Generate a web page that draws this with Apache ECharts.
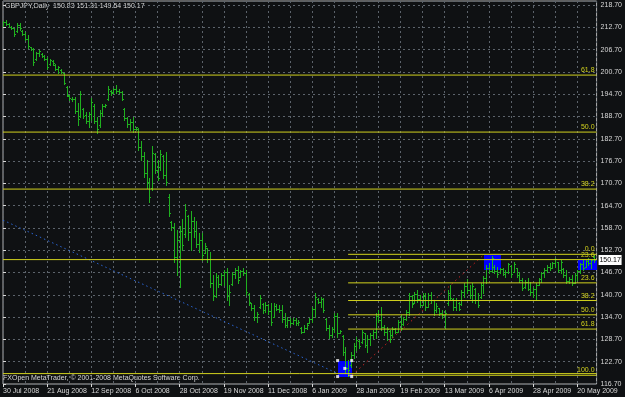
<!DOCTYPE html>
<html>
<head>
    <meta charset="UTF-8">
    <title>GBPJPY,Daily</title>
    <script type="text/javascript" src="https://cdn.jsdelivr.net/npm/echarts@6.0.0/dist/echarts.min.js"></script>
    <style>
        html, body { margin: 0; padding: 0; background: #0f1113; }
        #chart { width: 625px; height: 397px; }
    </style>
</head>
<body>
<div id="chart"></div>
<script type="text/javascript">
    // x-axis labels, one every 16 bars
    var tickLabels = ['30 Jul 2008', '21 Aug 2008', '12 Sep 2008', '6 Oct 2008', '28 Oct 2008', '19 Nov 2008', '11 Dec 2008',
        '6 Jan 2009', '28 Jan 2009', '19 Feb 2009', '13 Mar 2009', '6 Apr 2009', '28 Apr 2009', '20 May 2009'];

    // daily bars
    var opens = [
        213.5, 214.1, 213.6, 212.9, 212.4, 211.6, 213.4, 211.8, 210.9, 209.6,
        207.3, 206.9, 204.2, 205.8, 205.5, 205.0, 204.3, 202.8, 203.6, 202.6,
        201.6, 201.2, 200.4, 196.5, 194.2, 193.5, 193.4, 190.2, 188.9, 190.6,
        189.0, 187.5, 189.4, 191.6, 187.6, 186.3, 189.6, 191.5, 193.4, 195.5,
        195.3, 196.0, 195.5, 195.2, 190.6, 188.4, 186.7, 187.2, 185.4, 185.3,
        180.5, 178.0, 173.6, 171.0, 169.5, 178.6, 174.3, 175.0, 178.0, 172.9,
        167.0, 160.2, 158.9, 151.0, 155.5, 157.8, 157.0, 162.0, 157.5, 160.6,
        158.0, 154.5, 155.5, 152.0, 153.3, 150.3, 144.0, 140.5, 145.5, 143.5,
        146.0, 146.8, 140.3, 143.5, 146.2, 147.3, 145.6, 147.0, 146.5, 141.0,
        138.4, 137.2, 134.8, 137.4, 138.2, 136.5, 138.0, 136.3, 134.7, 137.8,
        137.0, 136.6, 134.2, 132.7, 133.9, 133.0, 133.8, 133.1, 131.8, 130.8,
        131.9, 133.2, 134.1, 136.9, 139.6, 138.9, 139.7, 134.2, 131.8, 130.0,
        131.4, 135.0, 130.5, 129.5, 125.3, 121.0, 121.8, 124.6, 126.9, 128.4,
        127.9, 130.4, 127.3, 128.9, 129.9, 130.8, 135.1, 134.0, 132.0, 130.6,
        131.0, 129.8, 131.6, 130.8, 133.4, 132.8, 134.2, 136.0, 140.4, 138.6,
        141.0, 139.6, 138.0, 140.5, 137.5, 140.6, 139.2, 136.5, 137.1, 135.8,
        135.2, 138.4, 141.3, 139.5, 137.3, 138.6, 138.2, 141.4, 143.2, 142.0,
        140.6, 142.3, 139.3, 140.0, 143.3, 145.2, 148.0, 147.2, 148.3, 147.0,
        146.8, 147.6, 146.4, 146.9, 148.5, 146.9, 147.8, 146.0, 144.6, 142.8,
        144.2, 142.3, 141.4, 142.4, 143.4, 144.9, 146.5, 147.5, 148.2, 147.9,
        149.2, 149.5, 147.4, 147.6, 146.1, 144.5, 145.0, 143.9, 146.0, 147.0,
        148.9, 148.3, 149.7, 149.2, 150.83
    ];
    var highs = [
        214.4, 214.7, 213.9, 213.0, 212.4, 213.8, 213.8, 212.0, 211.5, 210.6,
        207.5, 207.2, 206.1, 206.6, 205.8, 205.2, 204.8, 204.3, 203.9, 202.7,
        202.3, 201.4, 200.5, 196.9, 194.5, 193.9, 193.9, 192.2, 195.6, 190.9,
        190.0, 190.0, 193.6, 192.0, 188.6, 190.4, 192.0, 192.1, 196.9, 195.8,
        196.4, 197.2, 196.0, 195.6, 190.9, 188.6, 187.9, 188.6, 186.0, 185.5,
        182.1, 179.1, 177.0, 172.1, 180.7, 178.9, 177.0, 179.7, 178.3, 179.1,
        167.8, 160.6, 160.1, 158.2, 159.2, 161.1, 165.1, 162.2, 163.2, 161.6,
        160.6, 157.3, 157.3, 154.6, 153.3, 152.2, 146.0, 146.6, 146.0, 146.6,
        147.4, 147.9, 143.3, 146.9, 147.9, 148.5, 147.4, 147.9, 147.4, 141.2,
        138.5, 138.0, 136.1, 140.7, 138.4, 138.7, 138.3, 138.6, 138.4, 138.2,
        138.0, 138.0, 135.8, 134.7, 134.5, 134.5, 134.5, 133.9, 132.0, 132.6,
        133.1, 134.5, 137.4, 141.2, 139.8, 140.1, 139.8, 134.5, 132.6, 132.0,
        135.8, 135.8, 131.2, 129.9, 126.6, 123.2, 125.3, 127.7, 129.4, 128.6,
        131.2, 130.4, 129.9, 130.4, 131.2, 135.8, 136.6, 137.4, 132.6, 132.0,
        131.2, 132.0, 131.8, 133.9, 135.3, 134.7, 136.6, 141.2, 140.7, 141.5,
        142.0, 140.7, 141.2, 141.2, 141.2, 141.5, 139.3, 138.5, 137.2, 136.6,
        136.6, 142.0, 143.3, 139.8, 139.8, 138.8, 142.0, 143.9, 145.0, 143.3,
        143.9, 142.5, 141.2, 143.9, 145.8, 148.7, 149.3, 151.2, 148.7, 148.2,
        147.9, 147.9, 147.4, 149.3, 148.7, 149.6, 147.9, 146.9, 145.2, 144.7,
        145.2, 144.2, 142.8, 143.9, 145.2, 146.9, 147.9, 148.7, 149.3, 149.6,
        150.6, 149.6, 150.1, 147.9, 147.4, 145.5, 146.0, 146.6, 147.4, 149.3,
        150.1, 150.1, 150.6, 150.1, 151.31
    ];
    var lows = [
        213.1, 213.3, 212.7, 212.2, 210.4, 211.5, 212.1, 210.6, 209.3, 207.0,
        206.6, 202.6, 203.9, 205.1, 204.7, 203.9, 201.4, 202.6, 202.6, 201.2,
        200.5, 200.3, 197.4, 194.2, 193.1, 192.9, 189.6, 186.4, 188.5, 188.2,
        186.9, 186.0, 187.8, 186.9, 184.3, 186.0, 188.8, 191.2, 193.1, 194.5,
        195.1, 195.1, 194.9, 193.1, 187.8, 186.0, 185.1, 184.6, 185.1, 179.7,
        177.0, 172.4, 169.4, 165.7, 168.9, 173.5, 171.6, 174.3, 172.1, 170.3,
        161.9, 158.2, 149.5, 146.0, 142.8, 152.8, 156.3, 155.5, 152.8, 156.3,
        153.6, 152.2, 150.1, 151.9, 149.5, 142.8, 139.3, 140.1, 142.8, 143.3,
        143.3, 139.3, 138.0, 143.3, 145.2, 143.9, 145.5, 146.0, 140.7, 138.0,
        136.6, 133.9, 133.4, 137.2, 135.8, 136.1, 135.6, 132.6, 134.7, 136.6,
        136.1, 133.4, 132.0, 132.0, 132.6, 132.9, 132.6, 132.6, 130.4, 130.7,
        131.5, 133.1, 133.4, 134.7, 138.5, 137.4, 136.1, 131.2, 129.1, 129.4,
        130.7, 129.4, 130.4, 124.5, 119.7, 118.8, 121.3, 123.7, 125.9, 126.4,
        127.7, 126.7, 125.3, 127.2, 129.1, 129.1, 133.4, 131.2, 129.9, 128.6,
        128.0, 129.4, 130.4, 130.7, 131.2, 132.6, 133.9, 135.3, 137.4, 138.5,
        138.8, 137.4, 138.0, 136.6, 137.4, 138.5, 135.3, 136.1, 135.3, 134.5,
        131.8, 138.0, 139.3, 136.6, 136.6, 136.6, 138.0, 140.1, 141.2, 139.8,
        138.8, 138.5, 137.4, 139.8, 141.2, 143.9, 146.6, 146.9, 146.6, 145.5,
        146.6, 146.0, 145.5, 146.6, 145.5, 146.9, 145.5, 144.2, 142.0, 142.6,
        142.0, 140.7, 140.1, 139.3, 143.3, 144.2, 145.5, 146.9, 147.4, 147.9,
        148.2, 146.9, 146.6, 145.5, 143.9, 143.9, 143.3, 143.9, 144.7, 146.6,
        147.4, 148.2, 148.7, 147.9, 149.54
    ];
    var closes = [
        214.1, 213.6, 212.9, 212.5, 210.9, 213.4, 212.4, 210.9, 209.6, 207.6,
        206.9, 203.4, 205.8, 206.2, 205.0, 204.3, 202.0, 203.9, 203.0, 201.6,
        201.9, 200.6, 197.8, 194.6, 193.6, 193.3, 190.2, 188.0, 194.8, 188.9,
        187.5, 189.4, 192.6, 187.6, 185.2, 189.6, 191.5, 191.8, 196.2, 194.9,
        196.0, 195.5, 195.2, 193.5, 188.4, 186.7, 187.2, 185.4, 185.8, 180.5,
        178.0, 173.6, 171.0, 167.0, 178.8, 174.3, 172.2, 178.7, 172.9, 171.2,
        162.8, 158.9, 151.0, 155.5, 157.8, 154.0, 163.5, 157.5, 160.6, 158.0,
        154.5, 155.5, 151.5, 153.8, 150.3, 144.0, 140.5, 145.5, 143.5, 146.0,
        146.8, 140.3, 141.5, 146.2, 147.3, 144.8, 147.0, 146.5, 141.5, 138.7,
        137.2, 134.8, 135.5, 139.8, 136.5, 138.0, 136.3, 133.5, 137.8, 137.0,
        136.6, 134.2, 132.7, 133.9, 133.0, 133.8, 133.1, 133.3, 130.8, 131.9,
        132.7, 134.1, 136.9, 140.0, 138.9, 139.7, 136.6, 131.8, 130.0, 131.4,
        135.0, 130.5, 131.0, 125.3, 121.0, 120.5, 124.6, 126.9, 128.6, 126.9,
        130.6, 127.3, 128.9, 129.9, 130.8, 135.1, 134.0, 132.0, 130.6, 131.5,
        128.8, 131.6, 130.8, 133.4, 131.9, 134.2, 136.0, 140.4, 138.2, 141.0,
        139.6, 138.0, 140.5, 137.5, 140.6, 139.2, 136.5, 137.6, 135.8, 135.2,
        135.9, 141.3, 139.8, 137.3, 139.2, 137.0, 141.4, 143.2, 142.0, 140.6,
        143.0, 139.3, 138.0, 143.3, 145.2, 148.0, 147.2, 150.5, 147.0, 146.2,
        147.6, 146.4, 146.9, 148.9, 146.2, 149.1, 146.0, 144.6, 142.5, 144.2,
        142.3, 141.4, 142.4, 143.4, 144.9, 146.5, 147.5, 148.2, 147.8, 149.2,
        150.3, 147.4, 149.6, 146.1, 144.5, 145.0, 143.9, 146.0, 147.0, 148.9,
        148.0, 149.7, 149.2, 150.0, 150.17
    ];

    // fibonacci objects (levels in %, price range low/high, first bar)
    var fibLevelsLeft = [0, 23.6, 38.2, 50, 61.8];
    var fibRangeLeft = [119.5, 249.5];
    var fibLevelsRight = [0, 23.6, 38.2, 50, 61.8, 100];
    var fibRangeRight = [119.05, 151.6];
    var fibStartRight = 125;

    // dotted anchor lines: [bar, price]
    var blueAnchor = [[0, 160.8], [121, 119.6]];
    var redAnchor = [[126.4, 119.05], [174.3, 151.6]];

    // rectangles: [bar1, price1, bar2, price2]
    var boxes = [[121.2, 123.0, 126.3, 118.7], [174.3, 151.4, 180.2, 147.4], [208.4, 150.1, 215, 147.4]];
    var handles = [[121.2, 123.0], [126.3, 123.0], [121.2, 118.7], [126.3, 118.7], [123.8, 120.9]];

    var bidPrice = 150.17;
    var headerText = 'GBPJPY,Daily  150.83 151.31 149.54 150.17';
    var footerText = 'FXOpen MetaTrader, \u00a9 2001-2008 MetaQuotes Software Corp.';

    var FONT = "'Liberation Sans', Arial, sans-serif";
    var barColor = '#1fb01f';
    var fibColor = '#d2d21e';
    var textColor = '#d8d8d8';
    var gridColor = '#5c636b';

    var ohlc = [];
    for (var i = 0; i < opens.length; i++) {
        ohlc.push([i, opens[i], highs[i], lows[i], closes[i]]);
    }

    // fib rows: x start, x end, price + text
    var fibRows = [];
    fibLevelsLeft.forEach(function (lv) {
        var p = fibRangeLeft[0] + lv / 100 * (fibRangeLeft[1] - fibRangeLeft[0]);
        fibRows.push({x0: 0, x1: 215, p: p, text: lv === 0 ? '' : lv.toFixed(1)});
    });
    fibLevelsRight.forEach(function (lv) {
        var p = fibRangeRight[1] - lv / 100 * (fibRangeRight[1] - fibRangeRight[0]);
        fibRows.push({x0: fibStartRight, x1: 215, p: p, text: lv.toFixed(1)});
    });

    function renderOhlc(params, api) {
        var x = api.value(0);
        var pO = api.coord([x, api.value(1)]);
        var pH = api.coord([x, api.value(2)]);
        var pL = api.coord([x, api.value(3)]);
        var pC = api.coord([x, api.value(4)]);
        var cx = Math.round(pO[0]);
        var yh = Math.round(pH[1]), yl = Math.round(pL[1]);
        var yo = Math.round(pO[1]), yc = Math.round(pC[1]);
        var st = {fill: barColor};
        return {
            type: 'group',
            children: [
                {type: 'rect', shape: {x: cx, y: yh, width: 1, height: Math.max(1, yl - yh + 1)}, style: st},
                {type: 'rect', shape: {x: cx - 1, y: yo, width: 1, height: 1}, style: st},
                {type: 'rect', shape: {x: cx + 1, y: yc, width: 1, height: 1}, style: st}
            ]
        };
    }

    // only the level captions, the level lines are line series
    function renderFibText(params, api) {
        var b = api.coord([api.value(0), api.value(1)]);
        var y = Math.round(b[1]);
        return {
            type: 'text',
            style: {text: fibRows[params.dataIndex].text, x: b[0] - 2, y: y - 1,
                align: 'right', verticalAlign: 'bottom', fill: fibColor, font: '7px ' + FONT}
        };
    }

    function renderBox(params, api) {
        var p1 = api.coord([api.value(0), api.value(1)]);
        var p2 = api.coord([api.value(2), api.value(3)]);
        var x1 = Math.round(p1[0]), y1 = Math.round(p1[1]);
        return {
            type: 'rect',
            shape: {x: x1, y: y1, width: Math.round(p2[0]) - x1, height: Math.round(p2[1]) - y1},
            style: {fill: '#0000ff'}
        };
    }

    function renderBid(params, api) {
        var p = api.coord([api.value(0), api.value(1)]);
        var y = Math.round(p[1]);
        return {
            type: 'group',
            children: [
                {type: 'rect', shape: {x: p[0] + 2, y: y - 5, width: 23, height: 10}, style: {fill: '#ffffff'}},
                {type: 'text', style: {text: bidPrice.toFixed(2), x: p[0] + 13.5, y: y,
                        align: 'center', verticalAlign: 'middle', fill: '#000000', font: '7px ' + FONT}}
            ]
        };
    }

    var series = [
        {
            type: 'custom', name: 'boxes', renderItem: renderBox, data: boxes,
            encode: {x: [0, 2], y: [1, 3]}, clip: true, z: 1, silent: true
        },
        {
            type: 'line', name: 'blue', data: blueAnchor, symbol: 'none', z: 2, silent: true,
            lineStyle: {color: '#2a64d2', width: 1, type: [1.5, 3]}
        },
        {
            type: 'line', name: 'red', data: redAnchor, symbol: 'none', z: 2, silent: true,
            lineStyle: {color: '#c82020', width: 1, type: [1.5, 3.5]}
        },
        {
            type: 'custom', name: 'GBPJPY', renderItem: renderOhlc, data: ohlc,
            encode: {x: 0, y: [1, 2, 3, 4]}, clip: true, z: 3, silent: true
        }
    ];
    fibRows.forEach(function (r) {
        series.push({
            type: 'line', data: [[r.x0, r.p], [r.x1, r.p]], symbol: 'none', z: 4, silent: true,
            lineStyle: {color: fibColor, width: 1, type: 'solid', opacity: 1},
            emphasis: {disabled: true}
        });
    });
    series.push({
        type: 'custom', name: 'fiboText', renderItem: renderFibText,
        data: fibRows.map(function (r) { return [r.x1, r.p]; }),
        encode: {x: 0, y: 1}, clip: true, z: 4, silent: true
    });
    series.push({
        type: 'scatter', name: 'handles', data: handles, symbol: 'rect', symbolSize: 3,
        itemStyle: {color: '#ffffff'}, z: 5, silent: true
    });
    series.push({
        type: 'custom', name: 'bid', renderItem: renderBid, data: [[215, bidPrice]],
        encode: {x: 0, y: 1}, clip: false, z: 6, silent: true
    });

    var myChart = echarts.init(document.getElementById('chart'));
    var option = {
        backgroundColor: '#0f1113',
        animation: false,
        grid: {
            left: 1, right: 25, top: 1, bottom: 13,
            show: true, borderColor: '#b0b0b0', borderWidth: 1
        },
        xAxis: {
            type: 'value',
            min: 0,
            max: 215,
            interval: 16,
            axisLine: {show: false},
            axisTick: {show: true, length: 3, lineStyle: {color: textColor}},
            axisLabel: {
                color: textColor, fontSize: 7, fontFamily: FONT, align: 'left', margin: 4,
                showMaxLabel: false,
                formatter: function (v) {
                    var k = Math.round(v / 16);
                    return (v % 16 === 0 && tickLabels[k]) ? tickLabels[k] : '';
                }
            },
            splitLine: {show: true, lineStyle: {color: gridColor, type: [2, 3], width: 1}},
            minorTick: {show: false, splitNumber: 2},
            minorSplitLine: {show: true, lineStyle: {color: gridColor, type: [2, 3], width: 1}}
        },
        yAxis: {
            type: 'value',
            position: 'right',
            min: 116.7,
            max: 219.78,
            interval: 6,
            axisLine: {show: false},
            axisTick: {show: true, length: 3, lineStyle: {color: textColor}},
            axisLabel: {
                color: textColor, fontSize: 7, fontFamily: FONT, margin: 4,
                showMaxLabel: false,
                formatter: function (v) { return v.toFixed(2); }
            },
            splitLine: {show: true, lineStyle: {color: gridColor, type: [2, 3], width: 1}}
        },
        graphic: [
            {type: 'text', left: 5, top: 3, style: {text: headerText, fill: textColor, font: '7px ' + FONT}},
            {type: 'text', left: 3, top: 375, style: {text: footerText, fill: textColor, font: '7px ' + FONT}}
        ],
        series: series
    };
    myChart.setOption(option);
</script>
</body>
</html>
